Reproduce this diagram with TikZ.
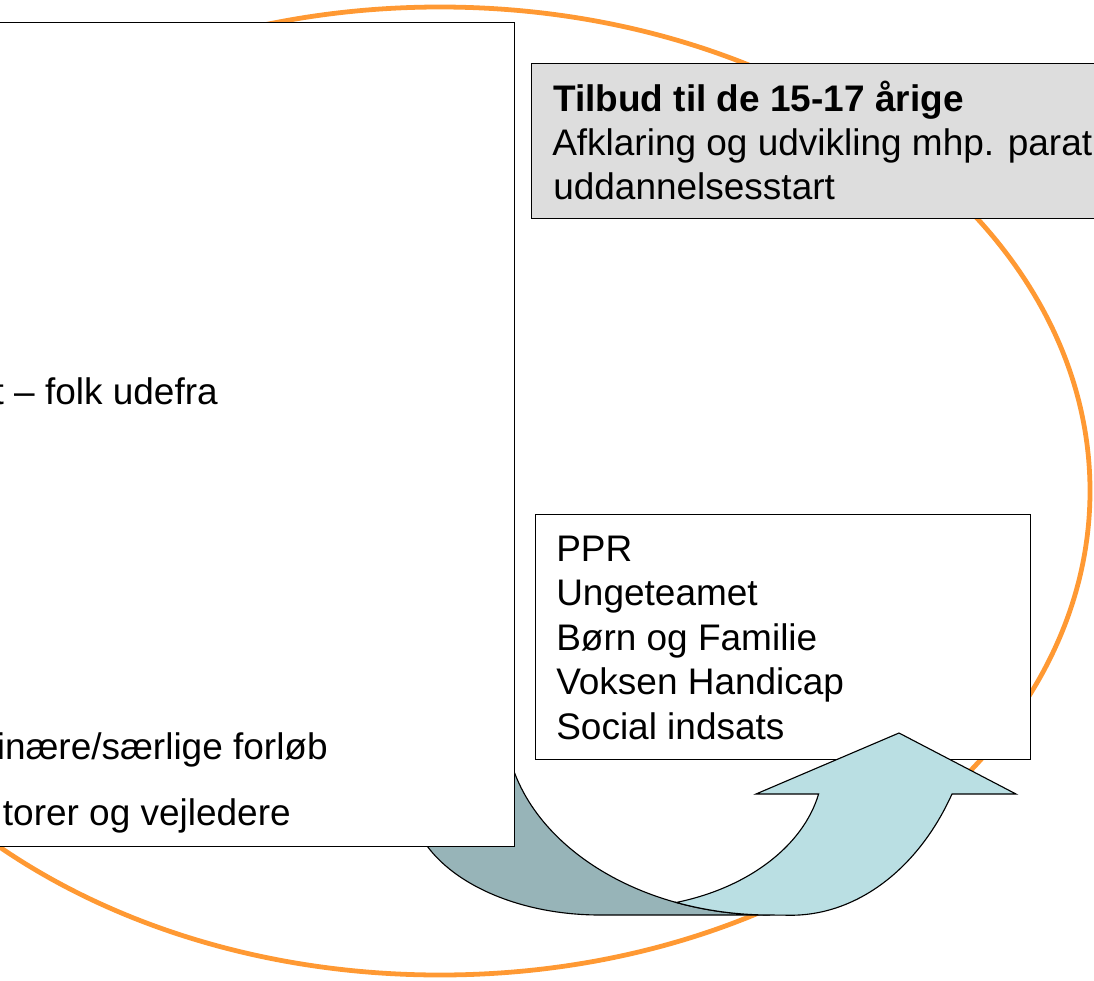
\documentclass[tikz,border=0pt]{standalone}
\usepackage{fontspec}
\setmainfont{Liberation Sans}
\usepackage{xcolor}
\definecolor{ringorange}{RGB}{255,153,51}
\definecolor{backblue}{RGB}{151,180,184}
\definecolor{frontblue}{RGB}{186,223,227}
\definecolor{boxgrey}{RGB}{221,221,221}
\newcommand{\pxu}{0.025cm}

\begin{document}
\begin{tikzpicture}[x=\pxu, y=\pxu,
        box/.style={draw, line width=0.9pt, fill=white, inner sep=0pt},
        txt/.style={inner sep=0pt, font=\fontsize{26.3}{31.6}\selectfont},
        head/.style={inner sep=0pt, font=\fontsize{26.3}{31.6}\selectfont\bfseries},
        band/.style={draw, line width=0.8pt}]
        \useasboundingbox (0,0) rectangle (1094,-981);
        \clip (0,0) rectangle (1094,-981);

        \draw[ringorange, line width=3.4pt] (440,-491) ellipse [x radius=650, y radius=484];

        \draw[band, fill=backblue] (410,-797) arc[start angle=180, end angle=270, x radius=190, y radius=118]
            -- (770,-915) arc[start angle=270, end angle=180, x radius=265, y radius=194] -- cycle;

        \node[box, anchor=north east, minimum width=540*\pxu, minimum height=824*\pxu] (plan) at (515,-22) {};
        \node[txt, anchor=base east] (outside) at (218,-404) {t – folk udefra};
        \node[txt, anchor=base east] (courses) at (328,-759) {inære/særlige forløb};
        \node[txt, anchor=base east] (mentors) at (291,-825) {torer og vejledere};

        \node[box, fill=boxgrey, anchor=north west, minimum width=600*\pxu, minimum height=155*\pxu] (offer) at (531,-63) {};
        \node[head, anchor=base west] (offertitle) at (553,-111) {Tilbud til de 15-17 årige};
        \node[txt, anchor=base west] (offerline) at (552,-155) {Afklaring og udvikling mhp. parath};
        \node[txt, anchor=base west] (offerend) at (553,-199) {uddannelsesstart};

        \node[box, anchor=north west, minimum width=495*\pxu, minimum height=245*\pxu] (services) at (535,-514) {};
        \foreach \service [count=\i] in {PPR, Ungeteamet, Børn og Familie, Voksen Handicap, Social indsats}
            \node[txt, anchor=base west] (service\i) at (556,{-561-44.5*(\i-1)}) {\service};

        \draw[band, fill=frontblue] (676,-902.5) arc[start angle=-74, end angle=-12, x radius=203, y radius=144]
            -- (756,-794) -- (899,-733) -- (1016,-794) -- (952,-794)
            arc[start angle=-31, end angle=-90, x radius=188, y radius=250]
            -- (770,-915) arc[start angle=-90, end angle=-110.8, x radius=265, y radius=194] -- cycle;
\end{tikzpicture}
\end{document}
